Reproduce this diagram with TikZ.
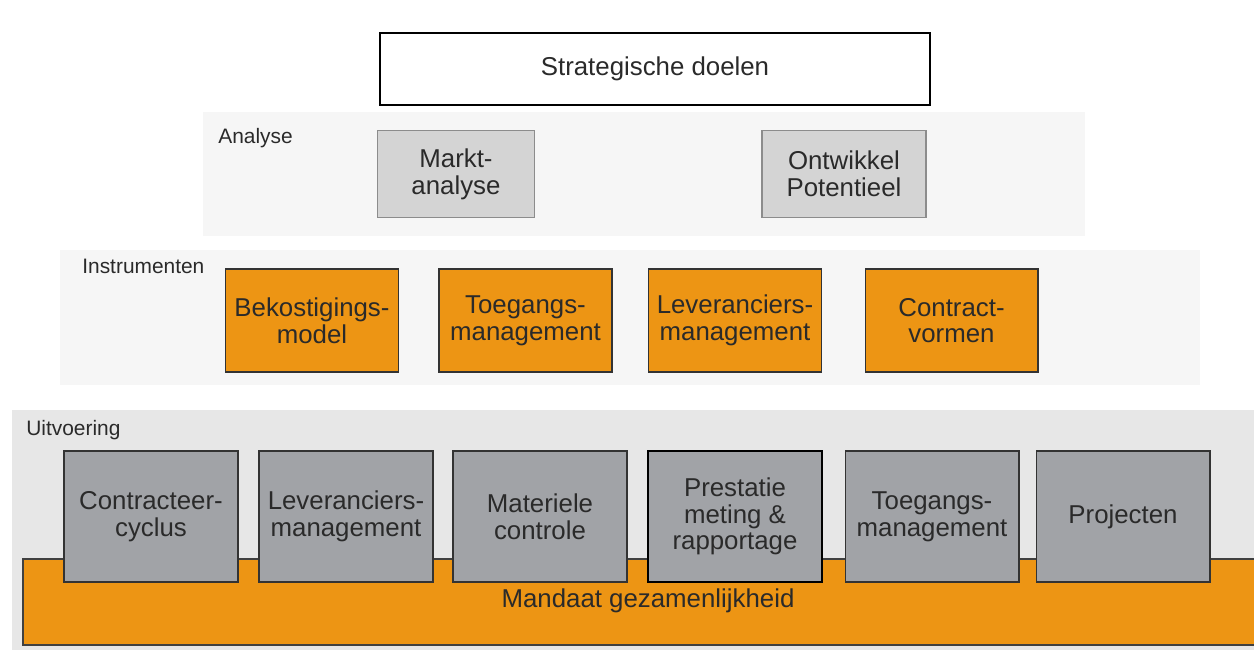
\documentclass[tikz,border=0pt]{standalone}
\usepackage{fontspec}
\setmainfont{Liberation Sans}
\usetikzlibrary{positioning}

\definecolor{oranje}{RGB}{237,149,20}
\definecolor{grijsblok}{RGB}{161,163,167}
\definecolor{lichtblok}{RGB}{212,212,212}
\definecolor{bandgrijs}{RGB}{231,231,231}
\definecolor{bandlicht}{RGB}{246,246,246}
\definecolor{tekstgrijs}{RGB}{42,42,42}

\tikzset{
	blok/.style={draw=black!80, line width=0.6pt, align=center, text=tekstgrijs,
		font=\fontsize{14.7}{15.2}\selectfont, inner sep=0pt},
	instrument/.style={blok, fill=oranje, minimum width=3.46cm, minimum height=2.06cm},
	uitvoer/.style={blok, fill=grijsblok, minimum width=3.48cm, minimum height=2.62cm},
	analyseblok/.style={blok, draw=black!45, fill=lichtblok, minimum height=1.75cm},
	laaglabel/.style={anchor=base west, text=tekstgrijs, inner sep=0pt,
		font=\fontsize{11.9}{13}\selectfont}
}

\begin{document}
\begin{tikzpicture}[x=0.02cm, y=-0.02cm]
			%%%%% START %%%%%
			\useasboundingbox (0, 0) rectangle (1254, 653);
			\fill[white] (0, 0) rectangle (1254, 653);
			
			% banden
			\fill[bandlicht] (203, 112) rectangle (1085, 236);
			\fill[bandlicht] (60, 250) rectangle (1200, 385);
			\fill[bandgrijs] (12, 410) rectangle (1254, 650);
			\draw[fill=oranje, draw=black!75, line width=0.6pt] (1256, 559) -- (23, 559) -- (23, 645) -- (1256, 645);
			
			% bovenste doel
			\node[blok, fill=white, draw=black, line width=0.9pt, minimum width=11cm, minimum height=1.44cm] (doelen) at (655, 69) {Strategische doelen};
			
			\node[laaglabel] (analyse) at (218, 143) {Analyse};
			\node[analyseblok, minimum width=3.14cm] (markt) at (456, 174) {Markt-\\analyse};
			\node[analyseblok, minimum width=3.28cm] (ontwikkel) at (844, 174) {Ontwikkel\\Potentieel};
			
			\node[laaglabel] (instrumenten) at (82, 273) {Instrumenten};
			\node[instrument] (bekostiging) at (312, 320.5) {Bekostigings-\\model};
			\node[instrument] (toegang) at (525.5, 320.5) {Toegangs-\\management};
			\node[instrument] (leverancier) at (735, 320.5) {Leveranciers-\\management};
			\node[instrument] (contract) at (951.5, 320.5) {Contract-\\vormen};
			
			\node[laaglabel] (uitvoering) at (26, 435) {Uitvoering};
			\node[uitvoer] (cyclus) at (151, 516.5) {Contracteer-\\cyclus};
			\node[uitvoer] (levmanagement) at (346, 516.5) {Leveranciers-\\management};
			\node[uitvoer] (materiele) at (540, 516.5) {Materiele\\controle};
			\node[uitvoer, draw=black, line width=0.9pt] (prestatie) at (735, 516.5) {Prestatie\\meting \&\\rapportage};
			\node[uitvoer] (toegmanagement) at (932, 516.5) {Toegangs-\\management};
			\node[uitvoer] (projecten) at (1123, 516.5) {Projecten};
			
			\node[text=tekstgrijs, font=\fontsize{14.7}{15.2}\selectfont] (mandaat) at (648, 601) {Mandaat gezamenlijkheid};
			%%%%% END %%%%%
\end{tikzpicture}
\end{document}
